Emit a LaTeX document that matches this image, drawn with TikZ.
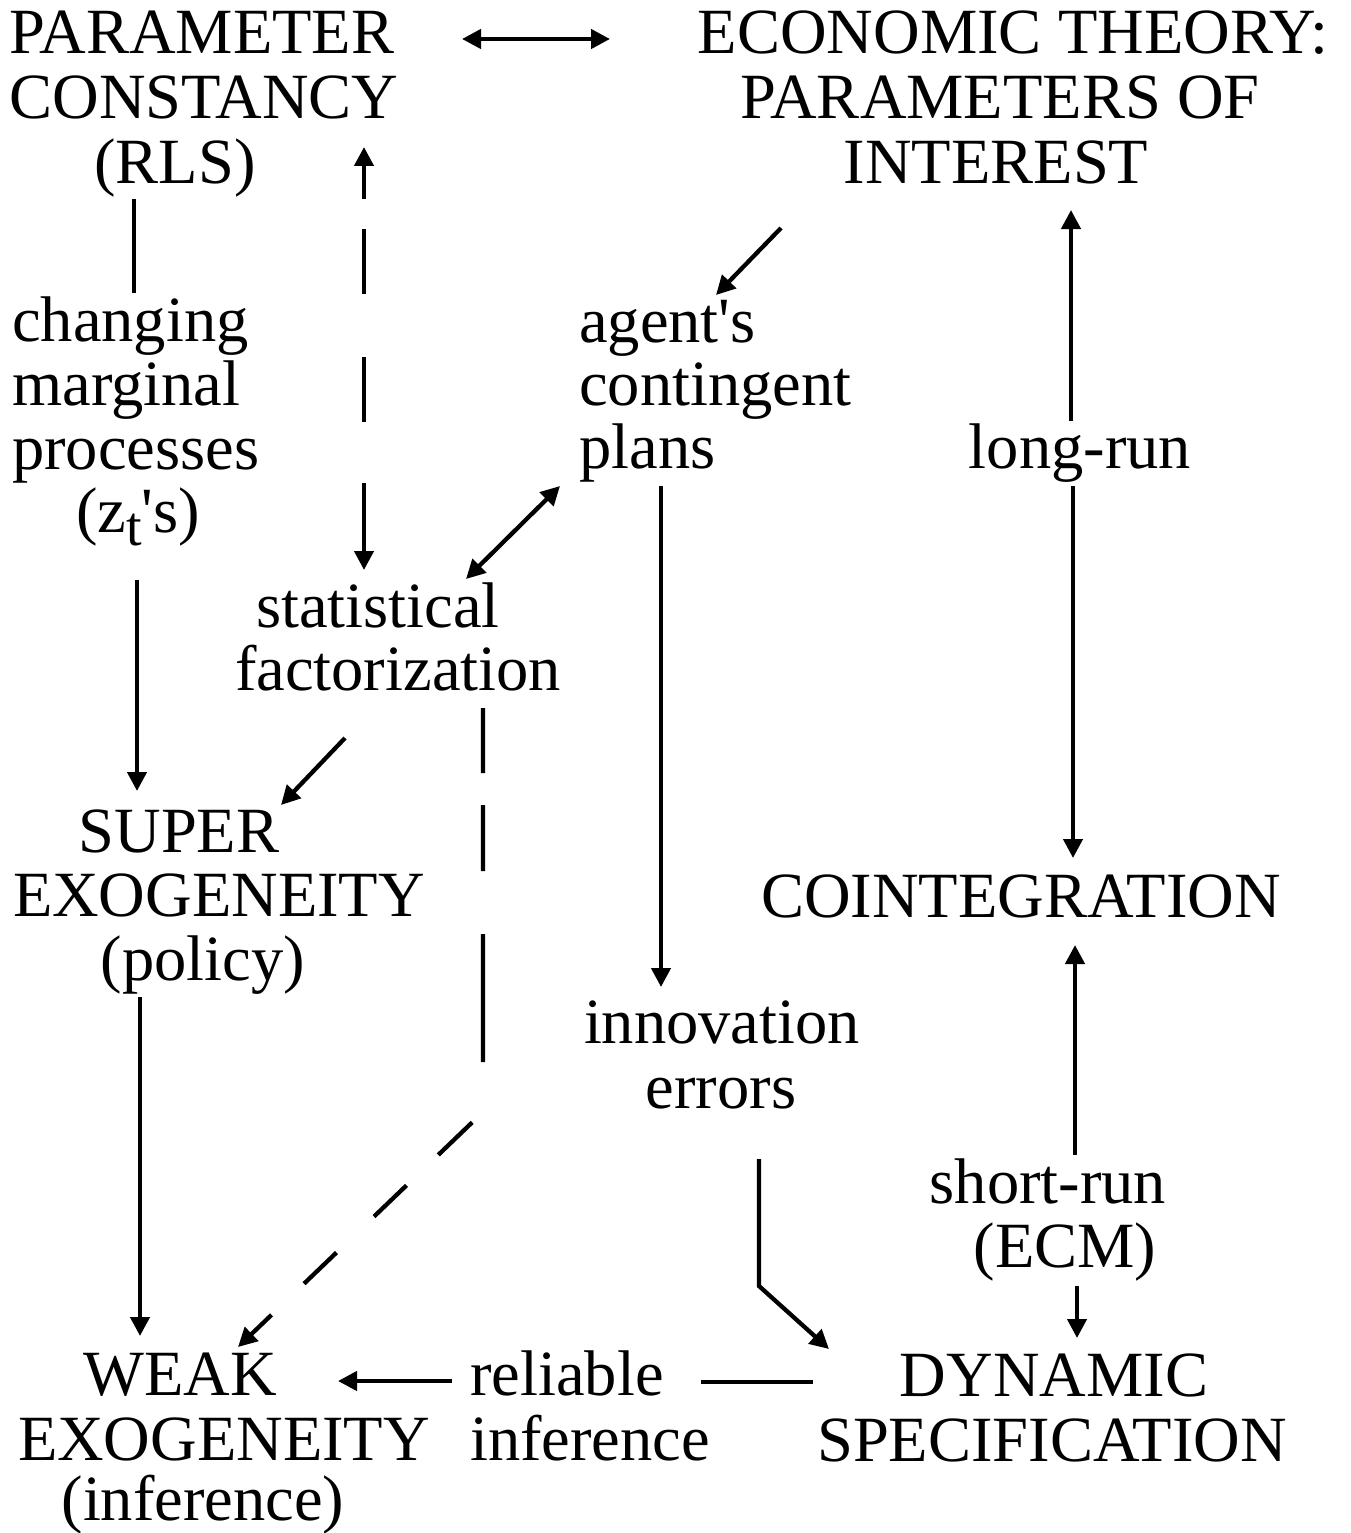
\documentclass[tikz,border=0pt]{standalone}
\usepackage{fontspec}
\setmainfont{Liberation Serif}
\usetikzlibrary{arrows.meta}
\begin{document}
\begin{tikzpicture}[x=1pt,y=-1pt,
  txt/.style={inner sep=0pt, font=\fontsize{64.5}{65}\selectfont},
  ln/.style={line width=4.3pt},
  tip/.style={},
  arr/.style={ln,-{Triangle[length=19pt,width=19pt]}},
  darr/.style={ln,{Triangle[length=19pt,width=19pt]}-{Triangle[length=19pt,width=19pt]}}]
\useasboundingbox (0,0) rectangle (1351,1533);

% text blocks
\node[txt,anchor=base] (pc1) at (202,54) {PARAMETER};
\node[txt,anchor=base] (pc2) at (204,119) {CONSTANCY};
\node[txt,anchor=base] (pc3) at (175,183) {(RLS)};

\node[txt,anchor=base] (et1) at (1013,54) {ECONOMIC THEORY:};
\node[txt,anchor=base] (et2) at (1000,119) {PARAMETERS OF};
\node[txt,anchor=base] (et3) at (996,183) {INTEREST};

\node[txt,anchor=base west] (cm1) at (12,341) {changing};
\node[txt,anchor=base west] (cm2) at (12,405) {marginal};
\node[txt,anchor=base west] (cm3) at (12,469) {processes};
\node[txt,anchor=base] (cm4) at (138,532) {(z\raisebox{-13pt}{\fontsize{56}{56}\selectfont t}\textquotesingle s)};

\node[txt,anchor=base west] (ag1) at (579,342) {agent\textquotesingle s};
\node[txt,anchor=base west] (ag2) at (579,405) {contingent};
\node[txt,anchor=base west] (ag3) at (579,468) {plans};

\node[txt,anchor=base] (lr) at (1080,468) {long-run};

\node[txt,anchor=base] (sf1) at (378,627) {statistical};
\node[txt,anchor=base] (sf2) at (398,690) {factorization};

\node[txt,anchor=base] (se1) at (179,852) {SUPER};
\node[txt,anchor=base] (se2) at (219,916) {EXOGENEITY};
\node[txt,anchor=base] (se3) at (203,980) {(policy)};

\node[txt,anchor=base] (co) at (1021,917) {COINTEGRATION};

\node[txt,anchor=base] (in1) at (722,1043) {innovation};
\node[txt,anchor=base] (in2) at (721,1108) {errors};

\node[txt,anchor=base] (sr1) at (1048,1203) {short-run};
\node[txt,anchor=base] (sr2) at (1065,1267) {(ECM)};

\node[txt,anchor=base] (ds1) at (1054,1396) {DYNAMIC};
\node[txt,anchor=base] (ds2) at (1052,1461) {SPECIFICATION};

\node[txt,anchor=base] (we1) at (180,1395) {WEAK};
\node[txt,anchor=base] (we2) at (224,1460) {EXOGENEITY};
\node[txt,anchor=base] (we3) at (203,1520) {(inference)};

\node[txt,anchor=base west] (ri1) at (470,1395) {reliable};
\node[txt,anchor=base west] (ri2) at (470,1460) {inference};

% connector end points
\coordinate (pcR) at (462,39);  \coordinate (etL) at (610,39);
\coordinate (rlsB) at (134,199); \coordinate (cmT) at (134,293);
\coordinate (cmB) at (137,580); \coordinate (seT) at (137,791);
\coordinate (dA) at (364,147); \coordinate (dB) at (364,570);
\coordinate (etB) at (781,228); \coordinate (agT) at (716,295);
\coordinate (agB) at (560,486); \coordinate (sfT) at (466,579);
\coordinate (plB) at (661,486); \coordinate (inT) at (661,987);
\coordinate (sfB) at (345,738); \coordinate (seR) at (281,805);
\coordinate (sfD) at (483,708); \coordinate (cor) at (483,1112); \coordinate (weT) at (238,1347);
\coordinate (lrT) at (1071,421); \coordinate (etB2) at (1071,210);
\coordinate (lrB) at (1073,486); \coordinate (coT) at (1073,858);
\coordinate (srT) at (1075,1155); \coordinate (coB) at (1075,945);
\coordinate (srB) at (1077,1286); \coordinate (dsT) at (1077,1338);
\coordinate (erB) at (759,1159); \coordinate (erK) at (759,1286); \coordinate (dsL) at (829,1349);
\coordinate (dsW) at (813,1382); \coordinate (riE) at (701,1382);
\coordinate (riW) at (452,1381); \coordinate (weE) at (338,1381);
\coordinate (seB) at (140,997); \coordinate (weT2) at (140,1336);

% connectors
\draw[darr] (pcR) -- (etL);
\draw[ln] (rlsB) -- (cmT);
\draw[arr] (cmB) -- (seT);
\draw[darr, dash pattern=on 34pt off 30pt on 65pt off 63pt on 65pt off 61pt on 200pt] (dA) -- (dB);
\draw[arr] (etB) -- (agT);
\draw[darr] (agB) -- (sfT);
\draw[arr] (plB) -- (inT);
\draw[arr] (sfB) -- (seR);
\draw[arr, dash pattern=on 65pt off 32pt on 66pt off 63pt on 128pt off 65pt on 47pt off 44pt on 45pt off 52pt on 45pt off 45pt on 200pt] (sfD) -- (cor) -- (weT);
\draw[arr] (seB) -- (weT2);
\draw[arr] (lrT) -- (etB2);
\draw[arr] (lrB) -- (coT);
\draw[arr] (srT) -- (coB);
\draw[arr] (srB) -- (dsT);
\draw[arr] (erB) -- (erK) -- (dsL);
\draw[ln] (dsW) -- (riE);
\draw[arr] (riW) -- (weE);
\end{tikzpicture}
\end{document}
